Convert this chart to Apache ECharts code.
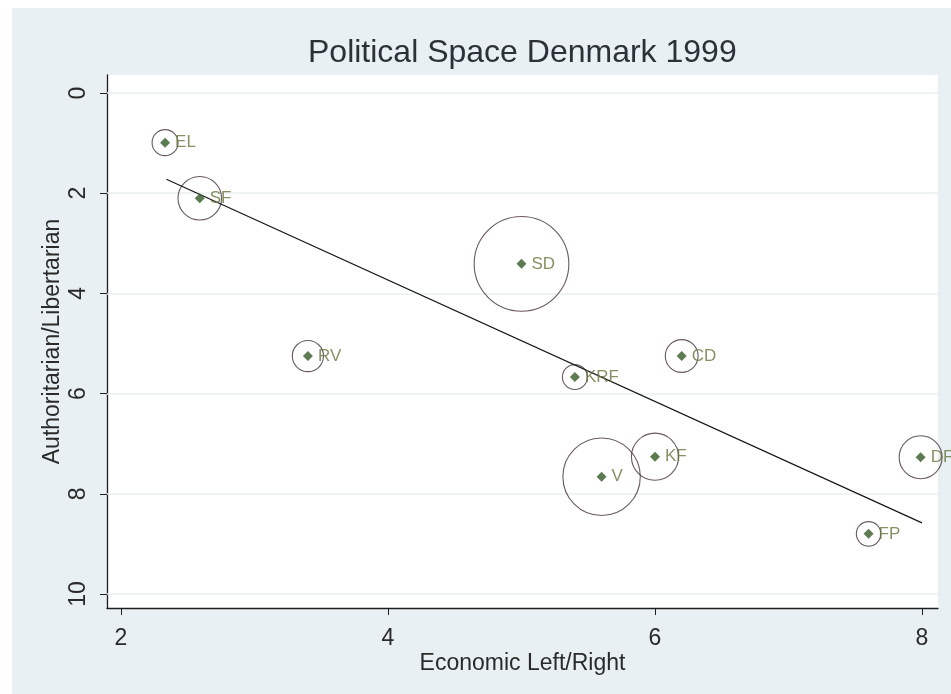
<!DOCTYPE html>
<html>
<head>
<meta charset="utf-8">
<title>Political Space Denmark 1999</title>
<script src="https://cdn.jsdelivr.net/npm/echarts@6/dist/echarts.min.js"></script>
<style>
  html, body { margin: 0; background: #fff; }
  #chart { position: absolute; left: 12px; top: 8px; width: 939px; height: 686px; }
</style>
</head>
<body>
<div id="chart"></div>
<script>
// party positions
const parties = ['EL', 'SF', 'SD', 'RV', 'KRF', 'CD', 'KF', 'V', 'DF', 'FP']
const econ = [2.33, 2.59, 5.0, 3.4, 5.4, 6.2, 6.0, 5.6, 7.99, 7.6]
const auth = [0.99, 2.1, 3.41, 5.25, 5.67, 5.25, 7.26, 7.66, 7.27, 8.8]
// vote share (%), drives the circle area
const voteShare = [2.7, 7.6, 35.9, 3.9, 2.5, 4.3, 8.9, 24.0, 7.4, 2.4]
// fitted line endpoints
const fitLine = [[2.34, 1.72], [8.0, 8.58]]
const xTicks = [2, 4, 6, 8]
const yTicks = [0, 2, 4, 6, 8, 10]

const font = "'Liberation Sans', Arial, sans-serif"
const axisColor = '#1e1e1e'

const chart = echarts.init(document.getElementById('chart'))

chart.setOption({
  backgroundColor: '#e9f0f3',
  animation: false,
  title: {
    text: 'Political Space Denmark 1999',
    left: 296,
    top: 29,
    padding: 0,
    textStyle: { fontFamily: font, fontSize: 32, fontWeight: 'normal', color: '#2b3137' },
  },
  grid: {
    left: 95, right: 13, top: 67, bottom: 86,
    show: true, backgroundColor: '#ffffff', borderWidth: 0,
  },
  xAxis: {
    type: 'value',
    min: 1.895,
    max: 8.12,
    name: 'Economic Left/Right',
    nameLocation: 'middle',
    nameGap: 44,
    nameMoveOverlap: false,
    nameTextStyle: { fontFamily: font, fontSize: 23, color: '#2a2a2a' },
    axisLine: { show: true, onZero: false, lineStyle: { color: axisColor, width: 1.3 } },
    axisTick: { show: true, length: 7, customValues: xTicks, lineStyle: { color: axisColor } },
    axisLabel: { customValues: xTicks, fontFamily: font, fontSize: 23, color: '#2a2a2a', margin: 19 },
    splitLine: { show: false },
  },
  yAxis: {
    type: 'value',
    inverse: true,
    min: -0.36,
    max: 10.28,
    name: 'Authoritarian/Libertarian',
    nameLocation: 'middle',
    nameGap: 43,
    nameMoveOverlap: false,
    nameTextStyle: { fontFamily: font, fontSize: 23, color: '#2a2a2a' },
    axisLine: { show: true, onZero: false, lineStyle: { color: axisColor, width: 1.3 } },
    axisTick: { show: true, length: 7, customValues: yTicks, lineStyle: { color: axisColor } },
    axisLabel: { customValues: yTicks, rotate: 90, fontFamily: font, fontSize: 23, color: '#2a2a2a', margin: 17 },
    splitLine: { show: false },
  },
  series: [
    {
      // vote-share circles, plus the faint horizontal gridlines
      type: 'scatter',
      symbol: 'circle',
      data: econ.map((x, i) => [x, auth[i], voteShare[i]]),
      symbolSize: (v) => 15.8 * Math.sqrt(v[2]),
      itemStyle: { color: 'rgba(0,0,0,0)', borderColor: '#45303a', borderWidth: 1.1 },
      z: 3,
      markLine: {
        silent: true,
        symbol: 'none',
        label: { show: false },
        lineStyle: { color: '#e8eff2', type: 'solid', width: 1.5 },
        data: yTicks.map((v) => ({ yAxis: v })),
        z: 1,
      },
    },
    {
      type: 'line',
      data: fitLine,
      showSymbol: false,
      lineStyle: { color: '#161616', width: 1.2 },
      z: 4,
    },
    {
      type: 'scatter',
      symbol: 'diamond',
      symbolSize: 10,
      data: parties.map((p, i) => ({ name: p, value: [econ[i], auth[i]] })),
      itemStyle: { color: '#355a26' },
      label: {
        show: true,
        position: 'right',
        distance: 5,
        formatter: (p) => p.name,
        fontFamily: font,
        fontSize: 17,
        color: '#66753e',
      },
      z: 5,
    },
  ],
})
</script>
</body>
</html>
